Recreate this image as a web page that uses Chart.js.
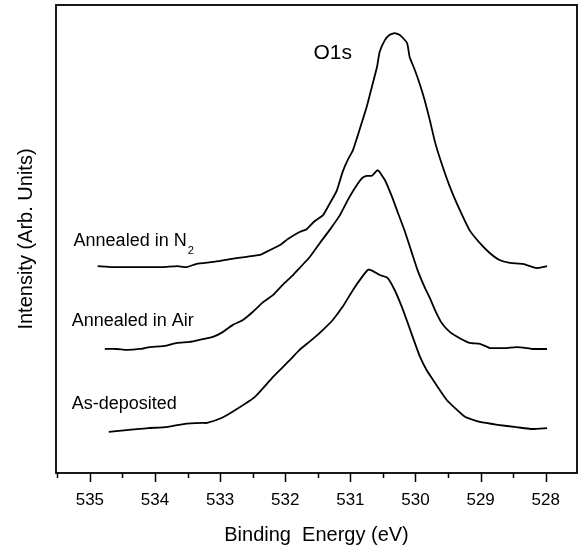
<!DOCTYPE html>
<html>
<head>
<meta charset="utf-8">
<script src="https://cdn.jsdelivr.net/npm/chart.js@4.4.1/dist/chart.umd.min.js"></script>
<style>
  html, body { margin: 0; padding: 0; background: #fff; }
  canvas { display: block; }
</style>
</head>
<body>
<canvas id="c" width="579" height="548"></canvas>
<script>
// ---- Data (binding energy in eV, intensity in arbitrary units) ----
const n2Energy = [534.88,534.65,534.39,534.13,533.88,533.66,533.51,533.36,533.11,532.85,532.59,532.39,532.24,532.08,531.96,531.78,531.67,531.55,531.42,531.32,531.21,531.12,531.04,530.96,530.86,530.75,530.67,530.59,530.55,530.47,530.40,530.32,530.24,530.13,530.09,530.01,529.93,529.86,529.78,529.70,529.60,529.47,529.32,529.17,529.01,528.86,528.71,528.55,528.35,528.20,528.12,527.98];
const n2Intensity = [44.2,44.0,44.0,44.0,44.0,44.2,44.0,44.7,45.1,45.7,46.2,46.6,47.6,48.7,50.0,51.5,52.1,53.8,55.1,57.5,60.3,64.3,66.9,69.0,73.3,78.2,82.5,86.8,90.0,92.5,93.6,94.0,93.6,91.9,88.9,86.1,82.9,79.7,75.4,70.7,66.2,61.1,56.2,51.9,49.1,47.0,45.5,44.9,44.7,44.0,43.8,44.2];

const airEnergy = [534.77,534.59,534.43,534.23,534.08,533.88,533.66,533.47,533.27,533.11,532.96,532.81,532.65,532.50,532.34,532.19,532.04,531.88,531.78,531.62,531.47,531.32,531.16,531.04,530.93,530.82,530.75,530.67,530.58,530.47,530.36,530.27,530.16,530.06,529.97,529.86,529.78,529.70,529.60,529.47,529.32,529.17,529.01,528.86,528.75,528.60,528.45,528.29,528.20,527.98];
const airIntensity = [26.5,26.5,26.3,26.5,26.9,27.1,27.8,28.0,28.6,29.1,30.1,31.6,32.7,34.4,36.5,38.0,40.2,42.3,43.8,46.2,49.1,51.9,55.1,58.3,60.9,63.0,63.5,63.5,64.7,62.6,59.0,55.6,51.5,47.2,43.4,39.7,37.4,34.8,32.1,30.1,28.8,27.8,27.6,26.7,26.7,26.7,26.9,26.7,26.5,26.5];

const asdepEnergy = [534.71,534.40,534.11,533.83,533.54,533.27,533.20,532.97,532.76,532.47,532.19,531.93,531.78,531.58,531.42,531.27,531.12,530.96,530.82,530.73,530.66,530.55,530.43,530.32,530.21,530.12,530.01,529.93,529.83,529.75,529.52,529.24,529.01,528.74,528.45,528.21,527.98];
const asdepIntensity = [8.8,9.2,9.6,9.8,10.5,10.7,10.7,11.8,13.5,16.2,20.5,24.1,26.3,28.6,30.6,32.7,35.5,39.1,41.9,43.4,43.2,42.3,41.7,39.1,35.5,32.1,27.8,24.8,22.0,20.3,15.6,12.0,10.9,10.3,9.8,9.4,9.6];

const seriesNames = ['Annealed in N2', 'Annealed in Air', 'As-deposited'];
const xMajorTicks = [528, 529, 530, 531, 532, 533, 534, 535];
const xMinorTicks = [527.5, 528.5, 529.5, 530.5, 531.5, 532.5, 533.5, 534.5, 535.5];

// ---- Build chart ----
const FONT = '"Liberation Sans", Arial, Helvetica, sans-serif';
const toPoints = (xs, ys) => xs.map((v, i) => ({ x: v, y: ys[i] }));

const lineStyle = { borderColor: '#000', borderWidth: 1.8, pointRadius: 0, fill: false, tension: 0.15 };

const decor = {
  id: 'decor',
  afterDraw(chart) {
    const { ctx, chartArea: a, scales: { x, y } } = chart;
    ctx.save();
    ctx.strokeStyle = '#000';
    ctx.lineWidth = 1.8;
    ctx.strokeRect(a.left, a.top, a.right - a.left, a.bottom - a.top);
    ctx.lineWidth = 1.5;
    ctx.beginPath();
    xMajorTicks.forEach(v => {
      const px = Math.round(x.getPixelForValue(v)) + 0.5;
      ctx.moveTo(px, a.bottom); ctx.lineTo(px, a.bottom + 9);
    });
    xMinorTicks.forEach(v => {
      const px = Math.round(x.getPixelForValue(v)) + 0.5;
      if (px > a.left + 1 && px < a.right - 1) { ctx.moveTo(px, a.bottom); ctx.lineTo(px, a.bottom + 5); }
    });
    ctx.stroke();

    ctx.fillStyle = '#000';
    ctx.textBaseline = 'middle';
    ctx.textAlign = 'left';
    ctx.font = '18px ' + FONT;
    // N2 label with subscript
    const nx = x.getPixelForValue(535.25), ny = y.getPixelForValue(49.6);
    ctx.fillText('Annealed in N', nx, ny);
    const w = ctx.measureText('Annealed in N').width;
    ctx.font = '11px ' + FONT;
    ctx.fillText('2', nx + w + 1, ny + 10);
    ctx.font = '18px ' + FONT;
    ctx.fillText(seriesNames[1], x.getPixelForValue(535.28), y.getPixelForValue(32.5));
    ctx.fillText(seriesNames[2], x.getPixelForValue(535.28), y.getPixelForValue(14.7));
    ctx.textAlign = 'center';
    ctx.font = '21px ' + FONT;
    ctx.fillText('O1s', x.getPixelForValue(531.27), y.getPixelForValue(89.7));
    ctx.restore();
  }
};

new Chart(document.getElementById('c'), {
  type: 'line',
  data: {
    datasets: [
      Object.assign({ label: seriesNames[0], data: toPoints(n2Energy, n2Intensity) }, lineStyle),
      Object.assign({ label: seriesNames[1], data: toPoints(airEnergy, airIntensity) }, lineStyle),
      Object.assign({ label: seriesNames[2], data: toPoints(asdepEnergy, asdepIntensity) }, lineStyle)
    ]
  },
  options: {
    responsive: false,
    animation: false,
    devicePixelRatio: 1,
    layout: { padding: { top: 5, right: 2, left: 0, bottom: 0 } },
    plugins: { legend: { display: false }, tooltip: { enabled: false } },
    scales: {
      x: {
        type: 'linear', reverse: true, min: 527.52, max: 535.52,
        afterBuildTicks: s => { s.ticks = xMajorTicks.map(v => ({ value: v })); },
        afterFit: s => { s.height = 75; },
        grid: { display: false, drawTicks: false },
        border: { display: false },
        ticks: { color: '#000', font: { family: FONT, size: 17 }, padding: 17, maxRotation: 0, callback: v => String(v) },
        title: { display: true, text: 'Binding  Energy (eV)', color: '#000', font: { family: FONT, size: 20 }, padding: { top: 0, bottom: 1 } }
      },
      y: {
        min: 0, max: 100,
        afterFit: s => { s.width = 56; },
        grid: { display: false, drawTicks: false },
        border: { display: false },
        ticks: { display: false },
        title: { display: true, text: 'Intensity (Arb. Units)', color: '#000', font: { family: FONT, size: 20 }, padding: { top: 14, bottom: 0 } }
      }
    }
  },
  plugins: [decor]
});
</script>
</body>
</html>
